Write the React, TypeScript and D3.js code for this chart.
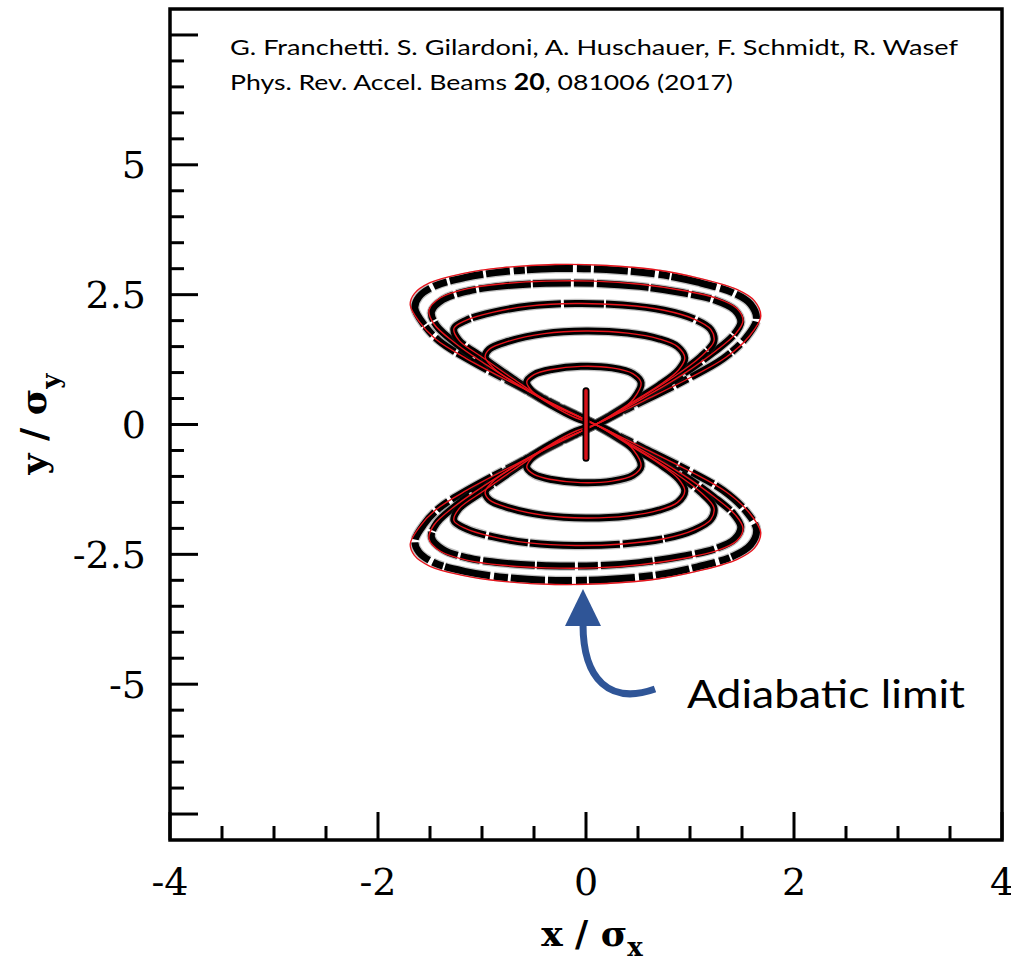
import React from 'react';
import * as d3 from 'd3';

// ---------- axis data ----------
const X_DOMAIN: [number, number] = [-4, 4];
const Y_DOMAIN: [number, number] = [-8, 8];
const X_TICK_LABELS = [-4, -2, 0, 2, 4];
const Y_TICK_LABELS = [-5, -2.5, 0, 2.5, 5];
const X_MAJOR = [-4, -2, 0, 2, 4];
const Y_MAJOR = [-7.5, -5, -2.5, 0, 2.5, 5, 7.5];
const MINOR_STEP = 0.5;

// ---------- curve data (upper lobes; lower lobes are their mirror in y) ----------
const CROSSING: [number, number] = [0.09, 0];
const LOBE_1: [number, number][] = [
  [0.09, 0], [0.55, 0.45], [1.0, 0.9], [1.35, 1.3], [1.57, 1.7], [1.68, 2.08], [1.62, 2.38],
  [1.45, 2.6], [1.1, 2.81], [0.7, 2.97], [0.2, 3.06], [-0.3, 3.08], [-0.8, 3.02], [-1.2, 2.9],
  [-1.5, 2.73], [-1.65, 2.52], [-1.69, 2.3], [-1.6, 1.97], [-1.45, 1.65], [-1.15, 1.27], [-0.55, 0.64],
];
const LOBE_2: [number, number][] = [
  [0.09, 0], [0.5, 0.45], [0.92, 0.95], [1.25, 1.42], [1.44, 1.75], [1.51, 2.0], [1.45, 2.24],
  [1.26, 2.43], [0.93, 2.58], [0.52, 2.7], [0.08, 2.76], [-0.38, 2.76], [-0.8, 2.71], [-1.15, 2.61],
  [-1.4, 2.44], [-1.51, 2.2], [-1.46, 1.93], [-1.26, 1.57], [-0.92, 1.1], [-0.45, 0.52],
];
const LOBE_3: [number, number][] = [
  [0.09, 0], [0.45, 0.42], [0.83, 0.9], [1.1, 1.3], [1.23, 1.6], [1.2, 1.83], [1.04, 2.03],
  [0.75, 2.2], [0.35, 2.3], [-0.1, 2.33], [-0.55, 2.28], [-0.9, 2.16], [-1.15, 2.01], [-1.27, 1.85],
  [-1.22, 1.62], [-1.0, 1.3], [-0.7, 0.88], [-0.35, 0.42],
];
const LOBE_4: [number, number][] = [
  [0.09, 0], [0.4, 0.38], [0.7, 0.75], [0.89, 1.05], [0.95, 1.28], [0.88, 1.5], [0.7, 1.65],
  [0.4, 1.76], [0.0, 1.8], [-0.4, 1.75], [-0.75, 1.6], [-0.93, 1.45], [-0.97, 1.3], [-0.88, 1.07],
  [-0.62, 0.73], [-0.3, 0.36],
];
const LOBE_5: [number, number][] = [
  [0.09, 0], [0.3, 0.22], [0.46, 0.5], [0.53, 0.8], [0.45, 0.98], [0.25, 1.09], [-0.05, 1.12],
  [-0.33, 1.06], [-0.5, 0.96], [-0.57, 0.82], [-0.5, 0.6], [-0.32, 0.36], [-0.1, 0.13],
];
const LOBES = [LOBE_1, LOBE_2, LOBE_3, LOBE_4, LOBE_5];
const BAND_SHRINK = [0.975, 0.985, 1, 1, 1];
const BAND_DASH = ['34 3 14 4 46 2 11 4 24 3', '52 3 20 3 38 2', '90 2 40 3', 'none', 'none'];
const BAR_X = 0;
const BAR_Y: [number, number] = [-0.65, 0.65];

// ---------- text ----------
const CITE_1 = 'G. Franchetti. S. Gilardoni, A. Huschauer, F. Schmidt, R. Wasef';
const CITE_2A = 'Phys. Rev. Accel. Beams ';
const CITE_2B = '20';
const CITE_2C = ', 081006 (2017)';
const NOTE = 'Adiabatic limit';

const W = 1011;
const H = 964;
const LEFT = 170, RIGHT = 1002, TOP = 9, BOTTOM = 840;

const xs = d3.scaleLinear().domain(X_DOMAIN).range([LEFT, RIGHT]);
const ys = d3.scaleLinear().domain(Y_DOMAIN).range([BOTTOM, TOP]);

const fig8 = (lobe: [number, number][], s = 1): [number, number][] => {
  const up = lobe.map(([x, y]) => [CROSSING[0] + (x - CROSSING[0]) * s, y * s] as [number, number]);
  const down = up.map(([x, y]) => [x, -y] as [number, number]);
  return [...up, ...down];
};

const lineGen = d3
  .line<[number, number]>()
  .x((d) => xs(d[0]))
  .y((d) => ys(d[1]))
  .curve(d3.curveCatmullRomClosed.alpha(0.5));

const serif = "'DejaVu Serif', serif";
const sans = "Lato, 'Open Sans', sans-serif";

export default function App() {
  const xMinor = d3.range(X_DOMAIN[0], X_DOMAIN[1] + 1e-9, MINOR_STEP).filter((v) => !X_MAJOR.includes(v));
  const yMinor = d3
    .range(Y_DOMAIN[0] + MINOR_STEP, Y_DOMAIN[1] - 1e-9, MINOR_STEP)
    .filter((v) => !Y_MAJOR.includes(v));

  return (
    <svg
      width={W}
      height={H}
      style={{ position: 'absolute', left: 0, top: 0, background: '#fff' }}
      xmlns="http://www.w3.org/2000/svg"
    >
      <rect x={0} y={0} width={W} height={H} fill="#fff" />

      {/* scatter bands */}
      {LOBES.map((lobe, i) => (
        <g key={'b' + i}>
          <path
            d={lineGen(fig8(lobe, BAND_SHRINK[i])) || ''}
            fill="none"
            stroke="#333"
            strokeOpacity={0.3}
            strokeWidth={9.5}
            strokeDasharray={BAND_DASH[i]}
          />
          <path
            d={lineGen(fig8(lobe, BAND_SHRINK[i])) || ''}
            fill="none"
            stroke="#000"
            strokeWidth={7}
            strokeDasharray={BAND_DASH[i]}
          />
        </g>
      ))}
      {/* red model curves */}
      {LOBES.map((lobe, i) => (
        <path key={'r' + i} d={lineGen(fig8(lobe)) || ''} fill="none" stroke="#e8141c" strokeWidth={1.4} />
      ))}

      {/* adiabatic bar */}
      <line x1={xs(BAR_X)} x2={xs(BAR_X)} y1={ys(BAR_Y[0])} y2={ys(BAR_Y[1])} stroke="#000" strokeWidth={7} strokeLinecap="round" />
      <line x1={xs(BAR_X)} x2={xs(BAR_X)} y1={ys(BAR_Y[0])} y2={ys(BAR_Y[1])} stroke="#d8121a" strokeWidth={3.5} strokeLinecap="round" />

      {/* frame */}
      <rect x={LEFT} y={TOP} width={RIGHT - LEFT} height={BOTTOM - TOP} fill="none" stroke="#000" strokeWidth={3.5} />

      {/* ticks */}
      {Y_MAJOR.map((v) => (
        <line key={'ym' + v} x1={LEFT} x2={LEFT + 28} y1={ys(v)} y2={ys(v)} stroke="#000" strokeWidth={3} />
      ))}
      {yMinor.map((v) => (
        <line key={'yn' + v} x1={LEFT} x2={LEFT + 14} y1={ys(v)} y2={ys(v)} stroke="#000" strokeWidth={3} />
      ))}
      {X_MAJOR.map((v) => (
        <line key={'xm' + v} x1={xs(v)} x2={xs(v)} y1={BOTTOM} y2={BOTTOM - 28} stroke="#000" strokeWidth={3} />
      ))}
      {xMinor.map((v) => (
        <line key={'xn' + v} x1={xs(v)} x2={xs(v)} y1={BOTTOM} y2={BOTTOM - 14} stroke="#000" strokeWidth={3} />
      ))}

      {/* tick labels */}
      {Y_TICK_LABELS.map((v) => (
        <text key={'yl' + v} x={146} y={ys(v)} dy="0.36em" textAnchor="end" fontFamily={serif} fontSize={38} fill="#000">
          {String(v)}
        </text>
      ))}
      {X_TICK_LABELS.map((v) => (
        <text key={'xl' + v} x={xs(v)} y={895} textAnchor="middle" fontFamily={serif} fontSize={38} fill="#000">
          {String(v)}
        </text>
      ))}

      {/* axis titles */}
      <text x={592} y={946} textAnchor="middle" fontFamily={serif} fontWeight="bold" fontSize={36} fill="#000">
        x / σ<tspan fontSize={26} dy={10}>x</tspan>
      </text>
      <text
        transform={`translate(46,424) rotate(-90)`}
        textAnchor="middle"
        fontFamily={serif}
        fontWeight="bold"
        fontSize={36}
        fill="#000"
      >
        y / σ<tspan fontSize={26} dy={14}>y</tspan>
      </text>

      {/* citation */}
      <text x={230} y={55} fontFamily={sans} fontSize={22} fill="#000" textLength={728} lengthAdjust="spacingAndGlyphs">
        {CITE_1}
      </text>
      <text x={230} y={90} fontFamily={sans} fontSize={22} fill="#000" textLength={503} lengthAdjust="spacingAndGlyphs">
        {CITE_2A}
        <tspan fontWeight="bold">{CITE_2B}</tspan>
        {CITE_2C}
      </text>

      {/* annotation arrow */}
      <path d="M655,689 C610,705 583,680 583,624" fill="none" stroke="#2f5597" strokeWidth={7} />
      <polygon points="565,626 601,626 583,589" fill="#2f5597" />
      <text x={687} y={708} fontFamily={sans} fontSize={38} fill="#000" textLength={278} lengthAdjust="spacingAndGlyphs">
        {NOTE}
      </text>
    </svg>
  );
}
